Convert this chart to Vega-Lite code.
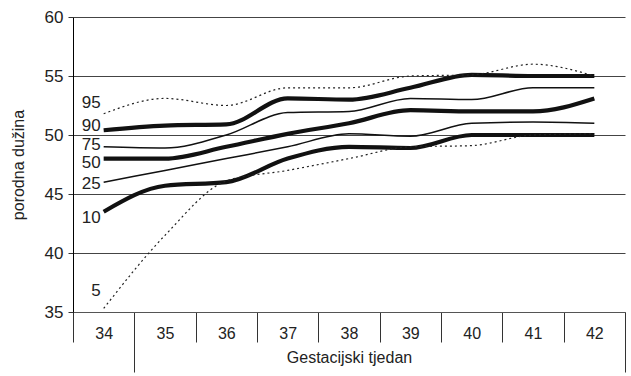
{
  "$schema": "https://vega.github.io/schema/vega-lite/v6.json",
  "autosize": {"type": "none"},
  "padding": {"left": 73, "top": 17, "right": 6, "bottom": 64},
  "width": 552,
  "height": 295,
  "config": {
    "view": {"stroke": null},
    "font": "Liberation Sans",
    "text": {"font": "Liberation Sans"}
  },
  "datasets": {
    "curves": [
      {"week": "34", "p": "95", "v": 51.8}, {"week": "35", "p": "95", "v": 53.1}, {"week": "36", "p": "95", "v": 52.5}, {"week": "37", "p": "95", "v": 54.0}, {"week": "38", "p": "95", "v": 54.0}, {"week": "39", "p": "95", "v": 55.0}, {"week": "40", "p": "95", "v": 55.1}, {"week": "41", "p": "95", "v": 56.0}, {"week": "42", "p": "95", "v": 55.0},
      {"week": "34", "p": "90", "v": 50.4}, {"week": "35", "p": "90", "v": 50.8}, {"week": "36", "p": "90", "v": 50.9}, {"week": "37", "p": "90", "v": 53.1}, {"week": "38", "p": "90", "v": 53.0}, {"week": "39", "p": "90", "v": 54.0}, {"week": "40", "p": "90", "v": 55.1}, {"week": "41", "p": "90", "v": 55.0}, {"week": "42", "p": "90", "v": 55.0},
      {"week": "34", "p": "75", "v": 49.0}, {"week": "35", "p": "75", "v": 48.9}, {"week": "36", "p": "75", "v": 50.0}, {"week": "37", "p": "75", "v": 51.9}, {"week": "38", "p": "75", "v": 52.0}, {"week": "39", "p": "75", "v": 53.1}, {"week": "40", "p": "75", "v": 53.0}, {"week": "41", "p": "75", "v": 54.0}, {"week": "42", "p": "75", "v": 54.0},
      {"week": "34", "p": "50", "v": 48.0}, {"week": "35", "p": "50", "v": 48.0}, {"week": "36", "p": "50", "v": 49.0}, {"week": "37", "p": "50", "v": 50.1}, {"week": "38", "p": "50", "v": 51.0}, {"week": "39", "p": "50", "v": 52.1}, {"week": "40", "p": "50", "v": 52.0}, {"week": "41", "p": "50", "v": 52.0}, {"week": "42", "p": "50", "v": 53.1},
      {"week": "34", "p": "25", "v": 46.0}, {"week": "35", "p": "25", "v": 47.0}, {"week": "36", "p": "25", "v": 48.0}, {"week": "37", "p": "25", "v": 49.0}, {"week": "38", "p": "25", "v": 50.1}, {"week": "39", "p": "25", "v": 49.9}, {"week": "40", "p": "25", "v": 51.0}, {"week": "41", "p": "25", "v": 51.1}, {"week": "42", "p": "25", "v": 51.0},
      {"week": "34", "p": "10", "v": 43.5}, {"week": "35", "p": "10", "v": 45.7}, {"week": "36", "p": "10", "v": 46.0}, {"week": "37", "p": "10", "v": 48.0}, {"week": "38", "p": "10", "v": 49.0}, {"week": "39", "p": "10", "v": 48.9}, {"week": "40", "p": "10", "v": 50.0}, {"week": "41", "p": "10", "v": 50.0}, {"week": "42", "p": "10", "v": 50.0},
      {"week": "34", "p": "5", "v": 35.3}, {"week": "35", "p": "5", "v": 41.5}, {"week": "36", "p": "5", "v": 46.1}, {"week": "37", "p": "5", "v": 47.0}, {"week": "38", "p": "5", "v": 48.0}, {"week": "39", "p": "5", "v": 49.0}, {"week": "40", "p": "5", "v": 49.1}, {"week": "41", "p": "5", "v": 50.0}, {"week": "42", "p": "5", "v": 50.1}
    ],
    "labels": [
      {"week": "34", "p": "95", "v": 52.7},
      {"week": "34", "p": "90", "v": 50.8},
      {"week": "34", "p": "75", "v": 49.15},
      {"week": "34", "p": "50", "v": 47.6},
      {"week": "34", "p": "25", "v": 45.85},
      {"week": "34", "p": "10", "v": 43.0},
      {"week": "34", "p": "5", "v": 36.8}
    ]
  },
  "encoding": {
    "x": {
      "field": "week",
      "type": "ordinal",
      "scale": {"type": "band", "paddingInner": 0, "paddingOuter": 0},
      "axis": {
        "title": "Gestacijski tjedan",
        "titleFontSize": 16,
        "titleFontWeight": "normal",
        "titleColor": "#222",
        "titleY": 45,
        "titleBaseline": "middle",
        "labelAngle": 0,
        "labelFontSize": 16,
        "labelColor": "#222",
        "labelPadding": {"condition": {"test": "datum.index == 0 || datum.index == 1", "value": -47}, "value": -17},
        "tickBand": "extent",
        "tickColor": "#333",
        "tickWidth": 1,
        "tickSize": {"condition": {"test": "datum.index == 0 || datum.index == 1", "value": 60}, "value": 30},
        "domainColor": "#555",
        "grid": false
      }
    },
    "y": {
      "field": "v",
      "type": "quantitative",
      "scale": {"domain": [35, 60], "nice": false, "zero": false},
      "axis": {
        "title": "porodna dužina",
        "titleFontSize": 16,
        "titleFontWeight": "normal",
        "titleColor": "#222",
        "titlePadding": 18,
        "values": [35, 40, 45, 50, 55, 60],
        "labelFontSize": 17,
        "labelColor": "#222",
        "labelPadding": 5,
        "tickSize": 5,
        "tickColor": "#333",
        "domainColor": "#000",
        "gridColor": "#444",
        "gridWidth": 1
      }
    }
  },
  "layer": [
    {
      "data": {"name": "curves"},
      "transform": [{"filter": {"field": "p", "oneOf": ["10", "50", "90"]}}],
      "mark": {"type": "line", "interpolate": "monotone", "color": "#111", "strokeWidth": 4.2},
      "encoding": {"detail": {"field": "p"}}
    },
    {
      "data": {"name": "curves"},
      "transform": [{"filter": {"field": "p", "oneOf": ["25", "75"]}}],
      "mark": {"type": "line", "interpolate": "monotone", "color": "#111", "strokeWidth": 1.5},
      "encoding": {"detail": {"field": "p"}}
    },
    {
      "data": {"name": "curves"},
      "transform": [{"filter": {"field": "p", "oneOf": ["5", "95"]}}],
      "mark": {"type": "line", "interpolate": "monotone", "color": "#222", "strokeWidth": 1.2, "strokeDash": [2, 3]},
      "encoding": {"detail": {"field": "p"}}
    },
    {
      "data": {"name": "labels"},
      "mark": {"type": "text", "align": "right", "baseline": "middle", "dx": -3, "fontSize": 17, "color": "#222"},
      "encoding": {
        "text": {"field": "p"}
      }
    }
  ]
}
